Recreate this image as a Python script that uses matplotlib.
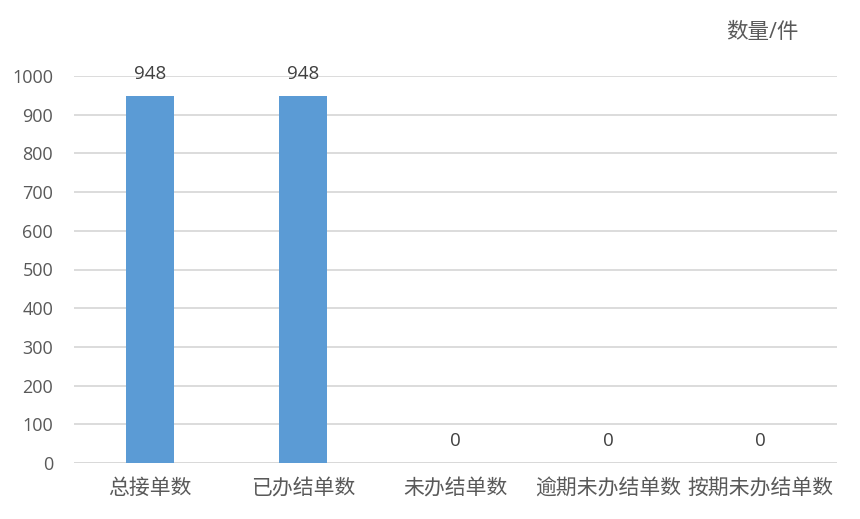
import matplotlib
matplotlib.use("Agg")
import matplotlib.pyplot as plt

categories = ["总接单数", "已办结单数", "未办结单数", "逾期未办结单数", "按期未办结单数"]
values = [948, 948, 0, 0, 0]
yticks = [0, 100, 200, 300, 400, 500, 600, 700, 800, 900, 1000]

plt.rcParams['font.family'] = ['Open Sans', 'Noto Sans CJK SC', 'DejaVu Sans']

fig = plt.figure(figsize=(8.6, 5.19), dpi=100)
ax = fig.add_axes([74/860, 1 - 463/519, (837-74)/860, (463-76)/519])

x = list(range(len(categories)))
ax.bar(x, values, width=0.315, color="#5B9BD5", zorder=3)
ax.set_xlim(-0.5, len(categories) - 0.5)
ax.set_ylim(0, 1000)
ax.set_yticks(yticks)
ax.set_yticklabels([str(t) for t in yticks], fontsize=13, color="#595959")
ax.set_xticks(x)
ax.set_xticklabels(categories, fontsize=15, color="#595959")
ax.tick_params(axis='both', length=0)
ax.tick_params(axis='y', pad=15)
ax.tick_params(axis='x', pad=11)
ax.grid(axis='y', color="#D9D9D9", linewidth=1.3, zorder=0)
for s in ax.spines.values():
    s.set_visible(False)
ax.axhline(0, color="#D9D9D9", linewidth=1.3, zorder=2)

for xi, v in zip(x, values):
    ax.annotate(str(v), (xi, v), xytext=(0, 16), textcoords='offset points',
                ha='center', va='center', fontsize=13.5, color="#404040")

fig.text(798/860, 1 - 32/519, "数量/件", ha='right', va='center', fontsize=15.5, color="#595959")

fig.savefig("out.png", dpi=100)
